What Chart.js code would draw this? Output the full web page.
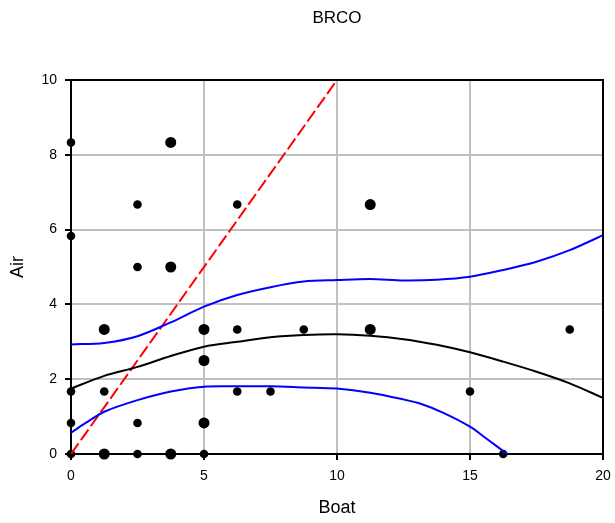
<!DOCTYPE html>
<html>
<head>
<meta charset="utf-8">
<title>BRCO</title>
<script src="https://cdn.jsdelivr.net/npm/chart.js@4.4.1/dist/chart.umd.min.js"></script>
<style>
  html, body { margin: 0; padding: 0; background: #fff; overflow: hidden; }
  canvas { display: block; }
</style>
</head>
<body>
<canvas id="brcoChart" width="615" height="523"></canvas>
<script>
// observations: boat vs air readings, count = how many share the spot
const obsBoat = [0, 0, 0, 0, 0, 1.25, 1.25, 1.25, 2.5, 2.5, 2.5, 2.5, 3.75, 3.75, 3.75,
                 5, 5, 5, 5, 6.25, 6.25, 6.25, 7.5, 8.75, 11.25, 11.25, 15, 16.25, 18.75];
const obsAir  = [8.33, 5.83, 1.67, 0.83, 0, 3.33, 1.67, 0, 6.67, 5.0, 0.83, 0, 8.33, 5.0, 0,
                 3.33, 2.5, 0.83, 0, 6.67, 3.33, 1.67, 1.67, 3.33, 6.67, 3.33, 1.67, 0, 3.33];
const obsCount = [1, 1, 1, 1, 1, 2, 1, 2, 1, 1, 1, 1, 2, 2, 2,
                  2, 2, 2, 1, 1, 1, 1, 1, 1, 2, 2, 1, 1, 1];

// fitted curve and its bands
const fitBoat  = [0, 1.25, 2.5, 3.75, 5, 6.25, 7.5, 8.75, 10, 11.25, 12.5, 13.75, 15, 16.25, 17.5, 18.75, 20];
const fitMid   = [1.75, 2.09, 2.33, 2.62, 2.87, 3.00, 3.12, 3.18, 3.20, 3.16, 3.07, 2.92, 2.72, 2.47, 2.20, 1.89, 1.50];
const fitUpper = [2.93, 2.97, 3.15, 3.52, 3.94, 4.25, 4.46, 4.61, 4.65, 4.68, 4.64, 4.66, 4.74, 4.92, 5.14, 5.45, 5.85];
const lowBoat  = [0, 0.6, 1.25, 2.5, 3.75, 5, 6.25, 7.5, 8.75, 10, 11.25, 12.5, 13.12, 14, 15, 15.6, 16.4];
const fitLower = [0.57, 0.85, 1.13, 1.44, 1.67, 1.80, 1.81, 1.81, 1.78, 1.75, 1.64, 1.46, 1.35, 1.10, 0.73, 0.42, 0];

// 1:1 reference line
const unitBoat = [0, 10];
const unitAir  = [0, 10];

const xTicks = [0, 5, 10, 15, 20];
const yTicks = [0, 2, 4, 6, 8, 10];

const pairs = (xs, ys) => xs.map((x, i) => ({ x: x, y: ys[i] }));

const FONT = 'Arial, "Liberation Sans", sans-serif';

// black box around the plot area
const frame = {
  id: 'frame',
  beforeDatasetsDraw(chart) {
    const { ctx, chartArea: a } = chart;
    ctx.save();
    ctx.strokeStyle = '#000';
    ctx.lineWidth = 2;
    ctx.strokeRect(a.left, a.top, a.right - a.left, a.bottom - a.top);
    ctx.restore();
  }
};

function lineSet(data, color, extra) {
  return Object.assign({
    type: 'line',
    data: data,
    borderColor: color,
    borderWidth: 2,
    pointRadius: 0,
    tension: 0.3,
    fill: false
  }, extra || {});
}

const ctx = document.getElementById('brcoChart').getContext('2d');
new Chart(ctx, {
  type: 'scatter',
  data: {
    datasets: [
      lineSet(pairs(fitBoat, fitUpper), '#0000ff'),
      lineSet(pairs(lowBoat, fitLower), '#0000ff'),
      lineSet(pairs(fitBoat, fitMid), '#000000'),
      lineSet(pairs(unitBoat, unitAir), '#ff0000', { borderDash: [13, 4], tension: 0 }),
      {
        type: 'scatter',
        data: pairs(obsBoat, obsAir),
        backgroundColor: '#000',
        borderWidth: 0,
        pointRadius: (c) => obsCount[c.dataIndex] > 1 ? 5.5 : 4.3,
        clip: false
      }
    ]
  },
  options: {
    responsive: false,
    animation: false,
    devicePixelRatio: 1,
    layout: { padding: { left: 0, right: 12, top: 0, bottom: 0 } },
    plugins: {
      legend: { display: false },
      tooltip: { enabled: false },
      title: {
        display: true,
        text: 'BRCO',
        color: '#000',
        fullSize: false,
        font: { family: FONT, size: 17, weight: 'normal' },
        padding: { top: 8, bottom: 51.6 }
      }
    },
    scales: {
      x: {
        type: 'linear',
        min: 0, max: 20,
        afterBuildTicks: (s) => { s.ticks = xTicks.map(v => ({ value: v })); },
        afterFit: (s) => { s.height = 69; s.paddingLeft = 0; s.paddingRight = 0; },
        ticks: { color: '#000', padding: 8, font: { family: FONT, size: 14 } },
        grid: { color: '#c0c0c0', lineWidth: 2, tickLength: 6, tickColor: '#000', tickWidth: 2 },
        border: { color: '#000', width: 2 },
        title: {
          display: true, text: 'Boat', color: '#000',
          font: { family: FONT, size: 18 },
          padding: { top: 0, bottom: 4 }
        }
      },
      y: {
        type: 'linear',
        min: 0, max: 10,
        afterBuildTicks: (s) => { s.ticks = yTicks.map(v => ({ value: v })); },
        afterFit: (s) => { s.width = 71; s.paddingTop = 0; s.paddingBottom = 0; },
        ticks: { color: '#000', padding: 8, font: { family: FONT, size: 14 } },
        grid: { color: '#c0c0c0', lineWidth: 2, tickLength: 6, tickColor: '#000', tickWidth: 2 },
        border: { color: '#000', width: 2 },
        title: {
          display: true, text: 'Air', color: '#000',
          font: { family: FONT, size: 18 },
          padding: { top: 7, bottom: 0 }
        }
      }
    }
  },
  plugins: [frame]
});
</script>
</body>
</html>
